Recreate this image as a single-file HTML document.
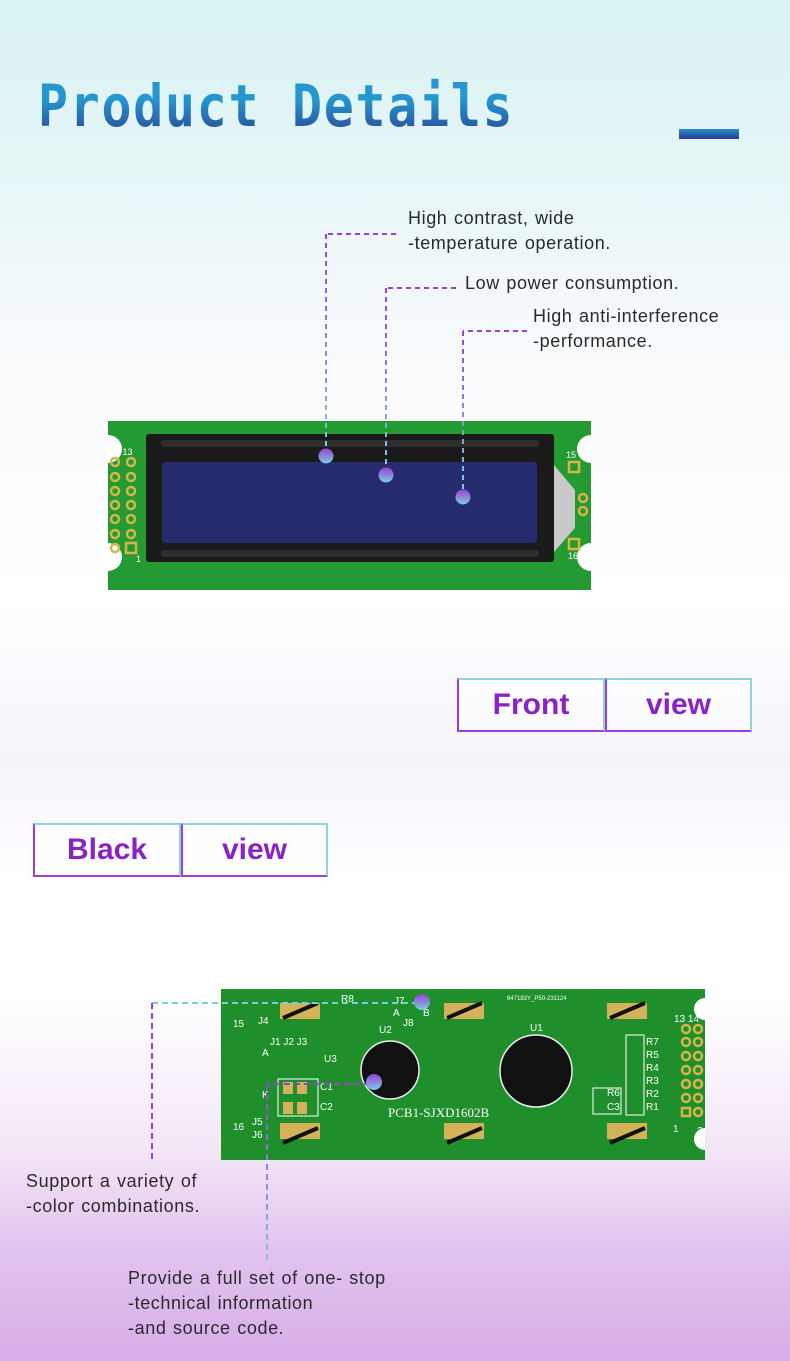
<!DOCTYPE html>
<html><head><meta charset="utf-8"><style>
*{margin:0;padding:0;box-sizing:border-box}
body{width:790px;height:1361px;position:relative;overflow:hidden;font-family:"Liberation Sans","DejaVu Sans",sans-serif;
background:linear-gradient(180deg,#d9f3f3 0px,#e6f6f7 180px,#fbfbfd 380px,#ffffff 600px,#f7f3fb 760px,#ffffff 880px,#ffffff 1000px,#f3e6f6 1150px,#e2c3ee 1250px,#d6aee8 1361px);}
.abs{position:absolute}
.title{left:38px;top:72px;font-family:"DejaVu Sans Mono","Liberation Mono",monospace;font-weight:bold;font-size:58px;letter-spacing:2px;
background:linear-gradient(180deg,#2596cf 40%,#2a3f8f 100%);-webkit-background-clip:text;background-clip:text;color:transparent;transform:scaleX(0.86);transform-origin:left}
.bar{left:679px;top:129px;width:60px;height:10px;background:linear-gradient(180deg,#2a8fd0,#2a3b8c)}
.t{position:absolute;font-size:18px;color:#2a2a2a;line-height:25px;letter-spacing:0.6px;word-spacing:1px}
.btn{position:absolute;height:54px;border:2px solid #9a3fd6;border-top-color:#8fd3e0;border-right-color:#8fd3e0;color:#8a22c8;font-weight:bold;font-size:30px;text-align:center;line-height:50px;background:rgba(255,255,255,0.5)}
</style></head><body>
<div class="abs title">Product Details</div>
<div class="abs bar"></div>

<div class="t" style="left:408px;top:206px">High contrast, wide<br>-temperature operation.</div>
<div class="t" style="left:465px;top:271px">Low power consumption.</div>
<div class="t" style="left:533px;top:304px">High anti-interference<br>-performance.</div>

<svg class="abs" style="left:0;top:0" width="790" height="620">
 <defs>
  <linearGradient id="g1" x1="0" y1="0" x2="0" y2="1"><stop offset="0" stop-color="#9a3fd6"/><stop offset="1" stop-color="#78cfe0"/></linearGradient>
  <linearGradient id="v1" gradientUnits="userSpaceOnUse" x1="0" y1="234" x2="0" y2="450"><stop offset="0" stop-color="#9a3fd6"/><stop offset="1" stop-color="#78cfe0"/></linearGradient>
  <linearGradient id="v2" gradientUnits="userSpaceOnUse" x1="0" y1="288" x2="0" y2="469"><stop offset="0" stop-color="#9a3fd6"/><stop offset="1" stop-color="#78cfe0"/></linearGradient>
  <linearGradient id="v3" gradientUnits="userSpaceOnUse" x1="0" y1="331" x2="0" y2="490"><stop offset="0" stop-color="#9a3fd6"/><stop offset="1" stop-color="#78cfe0"/></linearGradient>
 </defs>
 <rect x="108" y="421" width="483" height="169" fill="#239b32"/>
 <path d="M108 435 a14 14 0 0 1 0 28z M108 543 a14 14 0 0 1 0 28z M591 435 a14 14 0 0 0 0 28z M591 543 a14 14 0 0 0 0 28z" fill="#fff"/>
 <rect x="146" y="434" width="408" height="128" rx="3" fill="#1a1a1a"/>
 <rect x="161" y="440" width="378" height="7" rx="3" fill="#2e2e2e"/>
 <rect x="161" y="550" width="378" height="7" rx="3" fill="#2e2e2e"/>
 <rect x="162" y="462" width="375" height="81" rx="3" fill="#252b6c"/>
 <path d="M554 465 L575 490 L575 528 L554 552z" fill="#c9c9c9"/>
 <g fill="none" stroke="#d6b44a" stroke-width="2.5">
  <circle cx="115" cy="462" r="4"/><circle cx="131" cy="462" r="4"/>
  <circle cx="115" cy="477" r="4"/><circle cx="131" cy="477" r="4"/>
  <circle cx="115" cy="491" r="4"/><circle cx="131" cy="491" r="4"/>
  <circle cx="115" cy="505" r="4"/><circle cx="131" cy="505" r="4"/>
  <circle cx="115" cy="519" r="4"/><circle cx="131" cy="519" r="4"/>
  <circle cx="115" cy="534" r="4"/><circle cx="131" cy="534" r="4"/>
  <circle cx="115" cy="548" r="4"/><rect x="126" y="543" width="10" height="10"/>
  <rect x="569" y="462" width="10" height="10"/><rect x="569" y="539" width="10" height="10"/>
  <circle cx="583" cy="498" r="4"/><circle cx="583" cy="511" r="4"/>
 </g>
 <g fill="#fff" font-size="9" font-family="Liberation Sans">
  <text x="110" y="455">14 13</text><text x="566" y="458">15</text><text x="568" y="559">16</text><text x="110" y="562">2</text><text x="136" y="562">1</text>
 </g>
 <g fill="none" stroke-width="2" stroke-dasharray="5,4">
  <path d="M396 234 H326" stroke="#9a3fd6"/><path d="M326 234 V450" stroke="url(#v1)"/>
  <path d="M456 288 H386" stroke="#9a3fd6"/><path d="M386 288 V469" stroke="url(#v2)"/>
  <path d="M527 331 H463" stroke="#9a3fd6"/><path d="M463 331 V490" stroke="url(#v3)"/>
 </g>
 <circle cx="326" cy="456" r="7.5" fill="url(#g1)"/><circle cx="386" cy="475" r="7.5" fill="url(#g1)"/><circle cx="463" cy="497" r="7.5" fill="url(#g1)"/>
</svg>

<div class="btn" style="left:457px;top:678px;width:148px">Front</div>
<div class="btn" style="left:605px;top:678px;width:147px">view</div>
<div class="btn" style="left:33px;top:823px;width:148px">Black</div>
<div class="btn" style="left:181px;top:823px;width:147px">view</div>

<svg class="abs" style="left:0;top:980px" width="790" height="300">
 <defs>
  <linearGradient id="g2" x1="0" y1="0" x2="0" y2="1"><stop offset="0" stop-color="#9a3fd6"/><stop offset="1" stop-color="#78cfe0"/></linearGradient>
  <linearGradient id="v4" gradientUnits="userSpaceOnUse" x1="0" y1="1084" x2="0" y2="1262"><stop offset="0" stop-color="#9a3fd6"/><stop offset="1" stop-color="#78cfe0"/></linearGradient>
 </defs>
 <g transform="translate(0,-980)">
 <rect x="221" y="989" width="484" height="171" fill="#1f8f2c"/>
 <path d="M705 998 a11 11 0 0 0 0 22z M705 1128 a11 11 0 0 0 0 22z" fill="#fff"/>
 <g fill="#d4b25a">
  <rect x="280" y="1003" width="40" height="16"/><rect x="444" y="1003" width="40" height="16"/><rect x="607" y="1003" width="40" height="16"/>
  <rect x="280" y="1123" width="40" height="16"/><rect x="444" y="1123" width="40" height="16"/><rect x="607" y="1123" width="40" height="16"/>
  <rect x="283" y="1082" width="10" height="12"/><rect x="297" y="1082" width="10" height="12"/><rect x="283" y="1102" width="10" height="12"/><rect x="297" y="1102" width="10" height="12"/>
 </g>
 <g stroke="#111" stroke-width="4">
  <path d="M283 1018 L318 1003"/><path d="M447 1018 L482 1003"/><path d="M610 1018 L645 1003"/>
  <path d="M283 1143 L318 1128"/><path d="M447 1143 L482 1128"/><path d="M610 1143 L645 1128"/>
 </g>
 <circle cx="390" cy="1070" r="29" fill="#111" stroke="#eee" stroke-width="1.5"/>
 <circle cx="536" cy="1071" r="36" fill="#111" stroke="#eee" stroke-width="1.5"/>
 <g fill="none" stroke="#d6b44a" stroke-width="2.5">
  <circle cx="686" cy="1029" r="4"/><circle cx="698" cy="1029" r="4"/><circle cx="686" cy="1042" r="4"/><circle cx="698" cy="1042" r="4"/>
  <circle cx="686" cy="1056" r="4"/><circle cx="698" cy="1056" r="4"/><circle cx="686" cy="1070" r="4"/><circle cx="698" cy="1070" r="4"/>
  <circle cx="686" cy="1084" r="4"/><circle cx="698" cy="1084" r="4"/><circle cx="686" cy="1098" r="4"/><circle cx="698" cy="1098" r="4"/>
  <rect x="682" y="1108" width="8" height="8"/><circle cx="698" cy="1112" r="4"/>
 </g>
 <g fill="none" stroke="#fff" stroke-width="1"><rect x="626" y="1035" width="18" height="80"/><rect x="278" y="1079" width="40" height="37"/><rect x="593" y="1088" width="28" height="26"/></g>
 <g fill="#fff" font-family="Liberation Sans" font-size="10">
  <text x="341" y="1002">R8</text><text x="394" y="1004">J7</text><text x="393" y="1016">A</text><text x="423" y="1016">B</text><text x="403" y="1026">J8</text>
  <text x="258" y="1024">J4</text><text x="233" y="1027">15</text><text x="379" y="1033">U2</text><text x="530" y="1031">U1</text>
  <text x="270" y="1045">J1 J2 J3</text><text x="324" y="1062">U3</text><text x="262" y="1056">A</text><text x="320" y="1090">C1</text><text x="320" y="1110">C2</text>
  <text x="262" y="1098">K</text><text x="252" y="1125">J5</text><text x="252" y="1138">J6</text><text x="233" y="1130">16</text>
  <text x="646" y="1045">R7</text><text x="646" y="1058">R5</text><text x="646" y="1071">R4</text><text x="646" y="1084">R3</text><text x="646" y="1097">R2</text><text x="646" y="1110">R1</text>
  <text x="607" y="1096">R6</text><text x="607" y="1110">C3</text><text x="674" y="1022">13 14</text><text x="673" y="1132">1</text><text x="697" y="1134">2</text>
  <text x="388" y="1117" font-family="Liberation Serif" font-size="13">PCB1-SJXD1602B</text>
  <text x="507" y="1000" font-size="6">647183Y_P50-231124</text>
 </g>
 <g fill="none" stroke-width="2" stroke-dasharray="6,4">
  <path d="M152 1003 H420" stroke="#78cfe0"/><path d="M152 1003 V1162" stroke="#9a3fd6"/>
  <path d="M370 1084 H267" stroke="#9a3fd6"/><path d="M267 1084 V1262" stroke="url(#v4)"/>
 </g>
 <circle cx="422" cy="1002" r="8" fill="url(#g2)"/><circle cx="374" cy="1082" r="8" fill="url(#g2)"/>
 </g>
</svg>

<div class="t" style="left:26px;top:1169px">Support a variety of<br>-color combinations.</div>
<div class="t" style="left:128px;top:1266px">Provide a full set of one- stop<br>-technical information<br>-and source code.</div>
</body></html>
